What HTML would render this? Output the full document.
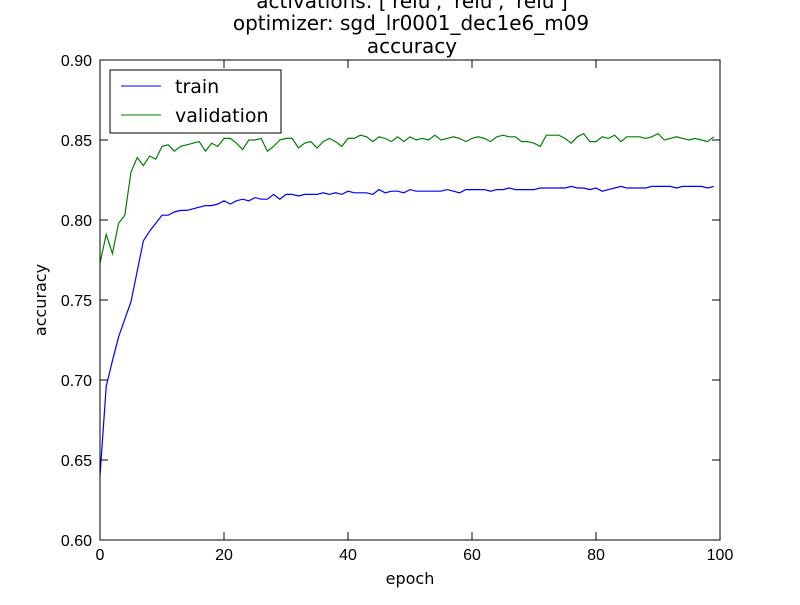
<!DOCTYPE html>
<html><head><meta charset="utf-8"><style>
body{margin:0;background:#fff;}
svg text{font-family:"DejaVu Sans","Liberation Sans",sans-serif;}
svg text.tick{font-family:"Liberation Sans","DejaVu Sans",sans-serif;}
</style></head><body>
<svg id="chart" width="800" height="600" xmlns="http://www.w3.org/2000/svg">
<rect width="800" height="600" fill="#fff"/>
<text x="412" y="8" font-size="20" text-anchor="middle">activations: ['relu', 'relu', 'relu']</text>
<text x="411" y="30" font-size="20" text-anchor="middle">optimizer: sgd_lr0001_dec1e6_m09</text>
<text x="412" y="53" font-size="20" text-anchor="middle">accuracy</text>
<g id="ticks"></g>
<g id="lines"></g>
<rect x="100" y="60" width="620" height="480" fill="none" stroke="#000" stroke-width="1"/>
<text x="410" y="584" font-size="16" text-anchor="middle">epoch</text>
<text x="46" y="300" font-size="16" text-anchor="middle" transform="rotate(-90 46 300)">accuracy</text>
<g>
<rect x="110" y="70" width="171" height="63" fill="#fff" stroke="#000"/>
<line x1="121" y1="86" x2="161" y2="86" stroke="#0000ff"/>
<text x="175" y="93" font-size="19">train</text>
<line x1="121" y1="115" x2="161" y2="115" stroke="#008000"/>
<text x="175" y="122" font-size="19">validation</text>
</g>
</svg>
<script>
const xTicks=[0,20,40,60,80,100];
const yTicks=[0.60,0.65,0.70,0.75,0.80,0.85,0.90];
const train=[0.640,0.696,0.712,0.727,0.738,0.749,0.768,0.787,0.793,0.798,0.803,0.803,0.805,0.806,0.806,0.807,0.808,0.809,0.809,0.810,0.812,0.810,0.812,0.813,0.812,0.814,0.813,0.813,0.816,0.813,0.816,0.816,0.815,0.816,0.816,0.816,0.817,0.816,0.817,0.816,0.818,0.817,0.817,0.817,0.816,0.819,0.817,0.818,0.818,0.817,0.819,0.818,0.818,0.818,0.818,0.818,0.819,0.818,0.817,0.819,0.819,0.819,0.819,0.818,0.819,0.819,0.820,0.819,0.819,0.819,0.819,0.820,0.820,0.820,0.820,0.820,0.821,0.820,0.820,0.819,0.820,0.818,0.819,0.820,0.821,0.820,0.820,0.820,0.820,0.821,0.821,0.821,0.821,0.820,0.821,0.821,0.821,0.821,0.820,0.821];
const validation=[0.773,0.791,0.779,0.798,0.803,0.830,0.839,0.834,0.840,0.838,0.846,0.847,0.843,0.846,0.847,0.848,0.849,0.843,0.848,0.846,0.851,0.851,0.848,0.844,0.850,0.850,0.851,0.843,0.846,0.850,0.851,0.851,0.845,0.848,0.849,0.845,0.849,0.851,0.849,0.846,0.851,0.851,0.853,0.852,0.849,0.852,0.851,0.849,0.852,0.849,0.852,0.850,0.851,0.850,0.853,0.850,0.851,0.852,0.851,0.849,0.851,0.852,0.851,0.849,0.852,0.853,0.852,0.852,0.849,0.849,0.848,0.846,0.853,0.853,0.853,0.851,0.848,0.852,0.854,0.849,0.849,0.852,0.851,0.853,0.849,0.852,0.852,0.852,0.851,0.852,0.854,0.850,0.851,0.852,0.851,0.850,0.851,0.850,0.849,0.852];
const NS="http://www.w3.org/2000/svg";
function xs(v){return 100+v*6.2;}
function ys(v){return 540-(v-0.60)/0.30*480;}
const tg=document.getElementById('ticks');
function mk(t,a){const e=document.createElementNS(NS,t);for(const k in a)e.setAttribute(k,a[k]);return e;}
xTicks.forEach(v=>{
const x=xs(v);
tg.appendChild(mk('line',{x1:x,y1:540,x2:x,y2:532,stroke:'#000'}));
tg.appendChild(mk('line',{x1:x,y1:60,x2:x,y2:68,stroke:'#000'}));
const t=mk('text',{x:x,y:560,'font-size':16,'text-anchor':'middle','class':'tick'});


t.textContent=v;tg.appendChild(t);
});
yTicks.forEach(v=>{
const y=ys(v);
tg.appendChild(mk('line',{x1:100,y1:y,x2:108,y2:y,stroke:'#000'}));
tg.appendChild(mk('line',{x1:712,y1:y,x2:720,y2:y,stroke:'#000'}));
const t=mk('text',{x:92,y:y+6,'font-size':16,'text-anchor':'end','class':'tick'});


t.textContent=v.toFixed(2);tg.appendChild(t);
});
const lg=document.getElementById('lines');
function draw(arr,color,name){
const p=mk('polyline',{points:arr.map((v,i)=>xs(i)+','+ys(v)).join(' '),fill:'none',stroke:color,'stroke-width':1.2});


lg.appendChild(p);
}
draw(train,'#0000ff','train-line');
draw(validation,'#008000','validation-line');
</script>
</body></html>
